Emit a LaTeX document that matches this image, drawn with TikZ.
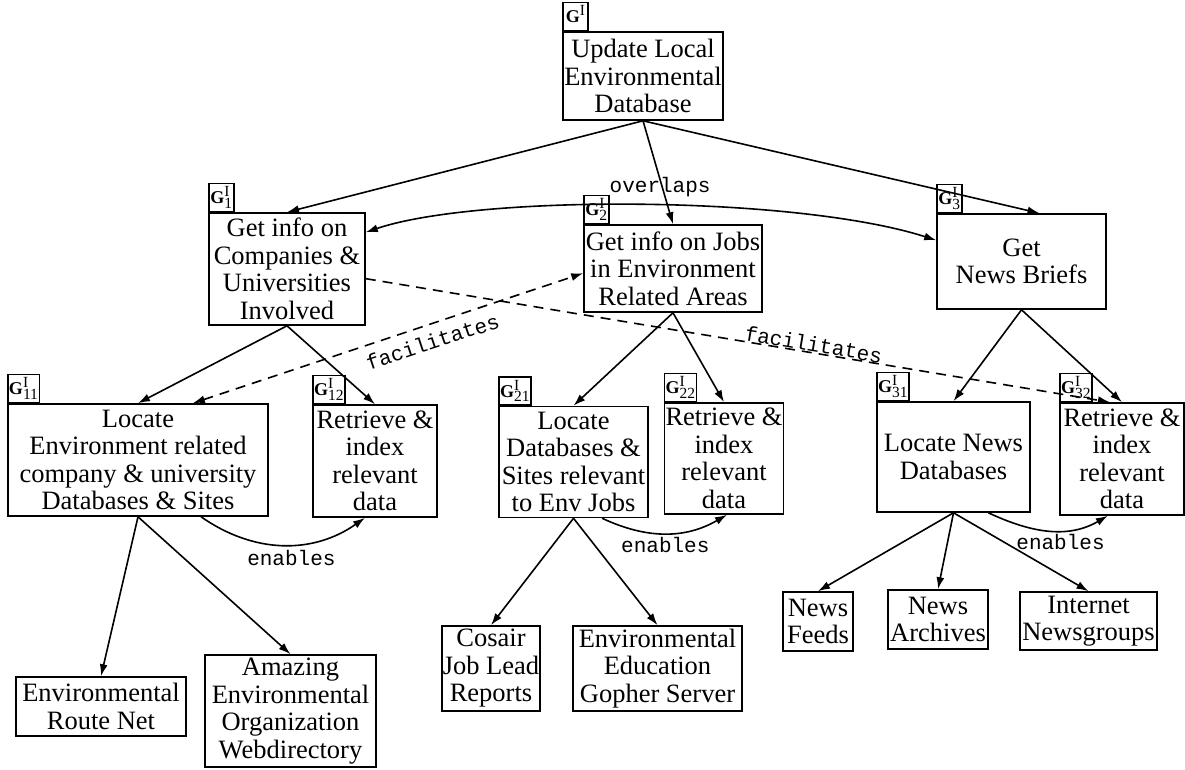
\documentclass[tikz,border=0pt]{standalone}
\usepackage{fontspec}
\setmainfont{Liberation Serif}
\setmonofont{Liberation Mono}
\usetikzlibrary{arrows.meta}
\newcommand{\gtag}[1]{$\textbf{G}^{\mbox{\fontsize{15.5}{15.5}\selectfont I}}_{\mbox{\fontsize{15.5}{15.5}\selectfont #1}}$}

\begin{document}
\begin{tikzpicture}[x=1pt, y=1pt, line width=1.6pt, >={Latex[length=12pt,width=8pt]},
    box/.style={draw, align=center, inner sep=1pt, font=\fontsize{26.5}{27.5}\selectfont},
    tag/.style={draw, anchor=south west, inner sep=1pt, minimum width=25pt, minimum height=28pt, font=\fontsize{18}{18}\selectfont},
    rel/.style={font=\ttfamily\fontsize{21}{21}\selectfont, inner sep=1pt},
    facil/.style={dash pattern=on 10pt off 7pt}]
    \useasboundingbox (0,0) rectangle (1185,769);

    \node[box, minimum width=158pt, minimum height=88pt] (root) at (643,693) {Update Local\\Environmental\\Database};

    \node[box, minimum width=156pt, minimum height=112pt] (g1) at (287,500) {Get info on\\Companies \&\\Universities\\Involved};
    \node[box, minimum width=178pt, minimum height=87pt] (g2) at (673,500.5) {Get info on Jobs\\in Environment\\Related Areas};
    \node[box, minimum width=169pt, minimum height=95pt] (g3) at (1021.5,507.5) {Get\\News Briefs};

    \node[box, minimum width=260pt, minimum height=112pt] (g11) at (138,309) {Locate\\Environment related\\company \& university\\Databases \& Sites};
    \node[box, minimum width=124pt, minimum height=112pt] (g12) at (375,308) {Retrieve \&\\index\\relevant\\data};
    \node[box, minimum width=149pt, minimum height=111pt] (g21) at (573.5,307) {Locate\\Databases \&\\Sites relevant\\to Env Jobs};
    \node[box, minimum width=112pt, minimum height=111pt] (g22) at (724,310.5) {Retrieve \&\\index\\relevant\\data};
    \node[box, minimum width=153pt, minimum height=110pt] (g31) at (953.5,312) {Locate News\\Databases};
    \node[box, minimum width=124pt, minimum height=112pt] (g32) at (1122,310) {Retrieve \&\\index\\relevant\\data};

    \node[box, minimum width=170pt, minimum height=59pt] (ern) at (101,62.5) {Environmental\\Route Net};
    \node[box, minimum width=171pt, minimum height=112pt] (amz) at (290.5,58) {Amazing\\Environmental\\Organization\\Webdirectory};
    \node[box, minimum width=98pt, minimum height=85pt] (cos) at (491,100.5) {Cosair\\Job Lead\\Reports};
    \node[box, minimum width=169pt, minimum height=85pt] (eeg) at (657.5,100.5) {Environmental\\Education\\Gopher Server};
    \node[box, minimum width=70pt, minimum height=59pt] (nf) at (818,147.5) {News\\Feeds};
    \node[box, minimum width=100pt, minimum height=59pt] (na) at (938,149.5) {News\\Archives};
    \node[box, minimum width=137pt, minimum height=58pt] (ing) at (1088.5,148) {Internet\\Newsgroups};

    \foreach \g/\s in {root/{}, g1/1, g2/2, g3/3, g11/11, g12/12, g21/21, g22/22, g31/31, g32/32}
      \node[tag] (t\g) at (\g.north west) {\gtag{\s}};

    \foreach \a/\b in {root/g1, root/g2, g1/g11, g1/g12, g2/g21, g2/g22, g3/g31, g3/g32,
                       g11/ern, g11/amz, g21/cos, g21/eeg, g31/nf, g31/na, g31/ing}
      \draw[->] (\a.south) -- (\b.north);
    \draw[->] (root.south) -- ([xshift=18pt]g3.north);

    \draw[<->] (g1.25) .. controls +(112,38) and +(-141,45) .. (g3.166) node[rel, pos=0.53, above=7pt] {overlaps};
    \draw[<->, facil] (g11.46) -- (g2.183) node[rel, pos=0.6, sloped, below=8pt] {facilitates};
    \draw[->, facil] (g1.-7) -- (g32.102) node[rel, pos=0.6, sloped, above, inner sep=0pt] {facilitates};

    \draw[->] (g11.-42) to[out=-35, in=-145] node[rel, pos=0.55, below=4pt] {enables} (g12.-100);
    \draw[->] (g21.-63) to[out=-25, in=-150] node[rel, below=2pt] {enables} (g22.-87);
    \draw[->] (g31.-58) to[out=-25, in=-150] node[rel, pos=0.6, below=2pt] {enables} (g32.-104);
  \end{tikzpicture}
\end{document}
